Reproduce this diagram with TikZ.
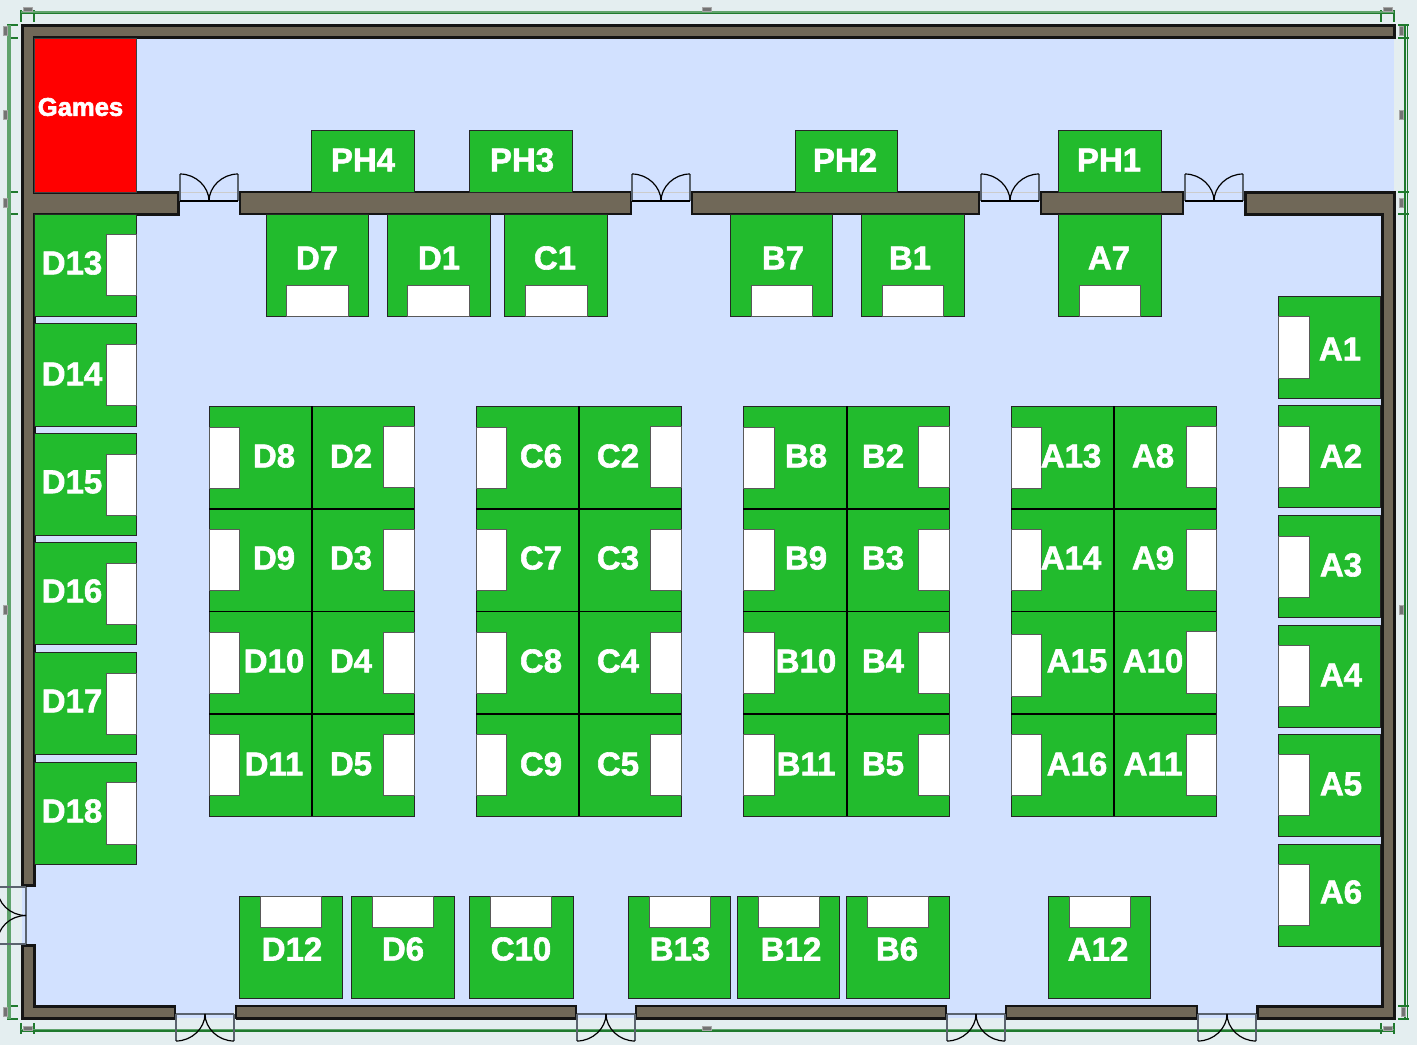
\documentclass[tikz,border=0pt]{standalone}
\usepackage{fontspec}
\setmainfont{Liberation Sans}
\definecolor{bgc}{HTML}{E4EEF0}
\definecolor{floorc}{HTML}{D2E1FF}
\definecolor{wallc}{HTML}{706858}
\definecolor{wallln}{HTML}{141414}
\definecolor{boothc}{HTML}{22BB2D}
\definecolor{dimc}{HTML}{1F7A2E}
\definecolor{dimlt}{HTML}{5FA36C}
\definecolor{framec}{HTML}{5A636E}
\newcommand\halotext[1]{\special{pdf:code 2 Tr 0.3 w 1 1 1 RG}#1\special{pdf:code 0 Tr}}
\tikzset{
  wallshape/.style={fill=wallc,draw=wallln,line width=1.5pt,line join=miter},
  thinwall/.style={fill=wallc,draw=wallln,line width=1pt,line join=miter},
  wallbase/.style={draw=wallln,line width=1.5pt},
  boothbox/.style={fill=boothc,draw=black!85,line width=0.45pt},
  whitebox/.style={fill=white,draw=black!65,line width=0.5pt},
  gridline/.style={draw=black,line width=0.9pt},
  boothlabel/.style={text=white,font=\bfseries\fontsize{16.5}{18}\selectfont,inner sep=0pt},
  gamelabel/.style={text=white,font=\bfseries\fontsize{12.8}{15}\selectfont,inner sep=0pt},
  dimline/.style={draw=dimc,line width=0.6pt},
  dimwide/.style={draw=dimlt,line width=1.8pt},
  smudge/.style={fill=black!55,draw=black!35,line width=0.2pt},
  doorline/.style={draw=black,line width=0.6pt},
  doorframe/.style={draw=framec,line width=1pt}
}
\newcommand\booth[9]{%
  \path[boothbox] (#1-0.7,#2-0.7) rectangle (#3-0.7,#4-0.7);
  \path[whitebox] (#5-0.7,#6-0.7) rectangle (#7-0.7,#8-0.7);
  \BoothLabel{#9}}
\newcommand\BoothLabel[1]{\def\BLname{#1}\BoothLabelB}
\newcommand\BoothLabelB[2]{\node[boothlabel] (b\BLname) at (#1,#2) {\halotext{\BLname}};}
\newcommand\topdoor[1]{%
  \pgfmathsetmacro\xa{#1}\pgfmathsetmacro\xb{#1+29}\pgfmathsetmacro\xc{#1+58}
  \pgfmathsetmacro\xd{#1+16}\pgfmathsetmacro\xe{#1+42}
  \path[fill=floorc] (\xa,190) rectangle (\xc,216);
  \draw[black!20,line width=0.4pt] (\xa,192) -- (\xc,192);
  \draw[doorframe] (\xa,174) -- (\xa,201);
  \draw[doorframe] (\xc,174) -- (\xc,201);
  \draw[doorline] (\xa,201) -- (\xc,201);
  \draw[doorline] (\xa,174) .. controls (\xd,174) and (\xb,187) .. (\xb,201);
  \draw[doorline] (\xc,174) .. controls (\xe,174) and (\xb,187) .. (\xb,201);}
\newcommand\botdoor[1]{%
  \pgfmathsetmacro\xa{#1}\pgfmathsetmacro\xb{#1+29}\pgfmathsetmacro\xc{#1+58}
  \pgfmathsetmacro\xd{#1+16}\pgfmathsetmacro\xe{#1+42}
  \path[fill=floorc] (\xa,1004) rectangle (\xc,1018);
  \draw[doorframe] (\xa,1014) -- (\xc,1014);
  \draw[doorframe] (\xa,1014) -- (\xa,1041);
  \draw[doorframe] (\xc,1014) -- (\xc,1041);
  \draw[doorline] (\xa,1041) .. controls (\xd,1041) and (\xb,1028) .. (\xb,1014);
  \draw[doorline] (\xc,1041) .. controls (\xe,1041) and (\xb,1028) .. (\xb,1014);}
\begin{document}
\begin{tikzpicture}[x=0.5pt,y=-0.5pt]
\useasboundingbox (0,0) rectangle (1417,1045);
\path[fill=bgc] (0,0) rectangle (1417,1045);
% floor
\path[fill=floorc] (30,35) rectangle (1394,192);
\path[fill=floorc] (30,190) rectangle (1384,1010);
\path[fill=floorc] (22,884) rectangle (36,946);
% dimension lines
\foreach \yy in {25,38,192,214,1006,1019} {
  \draw[dimline] (7,\yy) -- (18,\yy);
  \draw[dimline] (1398,\yy) -- (1409,\yy);
}
\foreach \xx in {21,34,1381,1394} {
  \draw[dimline] (\xx,10) -- (\xx,22);
  \draw[dimline] (\xx,1023) -- (\xx,1034);
}
\draw[dimwide] (9,25) -- (9,1019);
\draw[dimlt,line width=1.4pt] (21,12.2) -- (1394,12.2);
\draw[dimc,line width=0.6pt] (21,13.5) -- (1394,13.5);
\draw[dimline] (1405,25) -- (1405,1019);
\draw[dimline] (1407.5,25) -- (1407.5,1019);
\draw[dimlt,line width=0.9pt] (21,1030) -- (1394,1030);
\draw[dimc,line width=0.6pt] (21,1031) -- (1394,1031);
\foreach \xx/\yy in {28/9,707/9,1388/9,28/1028,707/1028,1388/1028} {
  \path[smudge] (\xx-4.5,\yy-2) rectangle (\xx+4.5,\yy+2);
}
\foreach \xx/\yy in {5/31,5/115,5/203,5/610,5/1012,1401/31,1401/115,1401/203,1401/610,1403/1012} {
  \path[smudge] (\xx-2,\yy-4.5) rectangle (\xx+2,\yy+4.5);
}
% walls
\path[wallshape] (22.3,25.7) -- (1394,25.7) -- (1394,37.7) -- (34,37.7) -- (34,192) -- (178,192) -- (178,214) -- (34,214) -- (34,885) -- (22.3,885) -- cycle;
\path[thinwall] (240,192) rectangle (631,214);
\path[thinwall] (692,192) rectangle (979,214);
\path[thinwall] (1041,192) rectangle (1183,214);
\path[wallshape] (1245,192) -- (1394,192) -- (1394,1018) -- (1257,1018) -- (1257,1006) -- (1382,1006) -- (1382,214) -- (1245,214) -- cycle;
\path[wallshape] (22.3,945) -- (34,945) -- (34,1006) -- (175,1006) -- (175,1018) -- (22.3,1018) -- cycle;
\path[thinwall] (236,1005.5) rectangle (576,1018);
\path[thinwall] (636,1005.5) rectangle (946,1018);
\path[thinwall] (1006,1005.5) rectangle (1197,1018);
\draw[wallbase] (236,1018) -- (576,1018);
\draw[wallbase] (636,1018) -- (946,1018);
\draw[wallbase] (1006,1018) -- (1197,1018);
% doors
\topdoor{180}\topdoor{632}\topdoor{981}\topdoor{1185}
\botdoor{176}\botdoor{577}\botdoor{947}\botdoor{1198}
\draw[doorframe] (0,887) -- (26,887);
\draw[doorframe] (0,944) -- (26,944);
\draw[doorframe] (26,887) -- (26,944);
\draw[doorline] (-3,887) .. controls (-3,903) and (10,915.5) .. (26,915.5);
\draw[doorline] (-3,944) .. controls (-3,928) and (10,915.5) .. (26,915.5);
% games
\path[fill=red,draw=black!75,line width=0.5pt] (34.5,38.5) rectangle (136.5,192);
\node[gamelabel] (games) at (80.5,107) {\halotext{Games}};
% PH booths
\path[boothbox] (311.3,130.3) rectangle (414.3,192);
\node[boothlabel] (bPH4) at (363,160) {\halotext{PH4}};
\path[boothbox] (469.3,130.3) rectangle (572.3,192);
\node[boothlabel] (bPH3) at (522,160) {\halotext{PH3}};
\path[boothbox] (795.3,130.3) rectangle (897.3,192);
\node[boothlabel] (bPH2) at (845,160) {\halotext{PH2}};
\path[boothbox] (1058.3,130.3) rectangle (1161.3,192);
\node[boothlabel] (bPH1) at (1109,160) {\halotext{PH1}};
% top row
\booth{267}{215}{369}{317}{287}{286}{349}{317}{D7}{317}{258}
\booth{388}{215}{491}{317}{408}{286}{470}{317}{D1}{439}{258}
\booth{505}{215}{608}{317}{526}{286}{588}{317}{C1}{555}{258}
\booth{731}{215}{833}{317}{752}{286}{813}{317}{B7}{783}{258}
\booth{862}{215}{965}{317}{883}{286}{944}{317}{B1}{910}{258}
\booth{1059}{215}{1162}{317}{1080}{286}{1141}{317}{A7}{1109}{258}
% left column
\booth{35}{215}{137}{317}{107}{235}{137}{296}{D13}{72}{263}
\booth{35}{324}{137}{427}{107}{345}{137}{406}{D14}{72}{374}
\booth{35}{434}{137}{536}{107}{455}{137}{516}{D15}{72}{482}
\booth{35}{543}{137}{645}{107}{564}{137}{625}{D16}{72}{591}
\booth{35}{653}{137}{755}{107}{674}{137}{735}{D17}{72}{701}
\booth{35}{763}{137}{865}{107}{783}{137}{845}{D18}{72}{811}
% right column
\booth{1279}{297}{1381}{399}{1279}{317}{1310}{379}{A1}{1340}{349}
\booth{1279}{406}{1381}{508}{1279}{427}{1310}{488}{A2}{1341}{456}
\booth{1279}{516}{1381}{618}{1279}{537}{1310}{598}{A3}{1341}{565}
\booth{1279}{626}{1381}{728}{1279}{646}{1310}{707}{A4}{1341}{675}
\booth{1279}{735}{1381}{837}{1279}{755}{1310}{816}{A5}{1341}{784}
\booth{1279}{845}{1381}{947}{1279}{865}{1310}{926}{A6}{1341}{892}
% D block
\booth{210}{407}{312}{509}{210}{428}{240}{489}{D8}{274}{456}
\booth{312}{407}{415}{509}{384}{427}{415}{488}{D2}{351}{456}
\booth{210}{509}{312}{612}{210}{530}{240}{591}{D9}{274}{558}
\booth{312}{509}{415}{612}{384}{530}{415}{591}{D3}{351}{558}
\booth{210}{612}{312}{714}{210}{633}{240}{694}{D10}{274}{661}
\booth{312}{612}{415}{714}{384}{633}{415}{694}{D4}{351}{661}
\booth{210}{714}{312}{817}{210}{735}{240}{796}{D11}{274}{764}
\booth{312}{714}{415}{817}{384}{735}{415}{796}{D5}{351}{764}
% C block
\booth{477}{407}{579}{509}{477}{428}{507}{489}{C6}{541}{456}
\booth{579}{407}{682}{509}{651}{427}{682}{488}{C2}{618}{456}
\booth{477}{509}{579}{612}{477}{530}{507}{591}{C7}{541}{558}
\booth{579}{509}{682}{612}{651}{530}{682}{591}{C3}{618}{558}
\booth{477}{612}{579}{714}{477}{633}{507}{694}{C8}{541}{661}
\booth{579}{612}{682}{714}{651}{633}{682}{694}{C4}{618}{661}
\booth{477}{714}{579}{817}{477}{735}{507}{796}{C9}{541}{764}
\booth{579}{714}{682}{817}{651}{735}{682}{796}{C5}{618}{764}
% B block
\booth{744}{407}{847}{509}{744}{428}{775}{489}{B8}{806}{456}
\booth{847}{407}{950}{509}{919}{427}{950}{488}{B2}{883}{456}
\booth{744}{509}{847}{612}{744}{530}{775}{591}{B9}{806}{558}
\booth{847}{509}{950}{612}{919}{530}{950}{591}{B3}{883}{558}
\booth{744}{612}{847}{714}{744}{633}{775}{694}{B10}{806}{661}
\booth{847}{612}{950}{714}{919}{633}{950}{694}{B4}{883}{661}
\booth{744}{714}{847}{817}{744}{735}{775}{796}{B11}{806}{764}
\booth{847}{714}{950}{817}{919}{735}{950}{796}{B5}{883}{764}
% A block
\booth{1012}{407}{1114}{509}{1012}{428}{1042}{489}{A13}{1071}{456}
\booth{1114}{407}{1217}{509}{1187}{427}{1217}{488}{A8}{1153}{456}
\booth{1012}{509}{1114}{612}{1012}{530}{1042}{591}{A14}{1071}{558}
\booth{1114}{509}{1217}{612}{1187}{530}{1217}{591}{A9}{1153}{558}
\booth{1012}{612}{1114}{714}{1012}{635}{1042}{697}{A15}{1077}{661}
\booth{1114}{612}{1217}{714}{1187}{632}{1217}{694}{A10}{1153}{661}
\booth{1012}{714}{1114}{817}{1012}{735}{1042}{796}{A16}{1077}{764}
\booth{1114}{714}{1217}{817}{1187}{735}{1217}{796}{A11}{1153}{764}
% inner division lines of the four blocks
\foreach \xa/\xm/\xb in {209.3/311.7/414.3,476.3/578.7/681.3,743.3/846.7/949.3,1011.3/1113.7/1216.3} {
  \draw[gridline] (\xm,406.3) -- (\xm,816.3);
  \draw[gridline] (\xa,509) -- (\xb,509);
  \draw[gridline] (\xa,611.5) -- (\xb,611.5);
  \draw[gridline] (\xa,714) -- (\xb,714);
}
% bottom row
\booth{240}{897}{343}{999}{261}{897}{322}{928}{D12}{292}{949}
\booth{352}{897}{455}{999}{373}{897}{434}{928}{D6}{403}{949}
\booth{470}{897}{574}{999}{491}{897}{552}{928}{C10}{521}{949}
\booth{629}{897}{731}{999}{650}{897}{711}{928}{B13}{680}{949}
\booth{738}{897}{840}{999}{759}{897}{820}{928}{B12}{791}{949}
\booth{847}{897}{950}{999}{868}{897}{929}{928}{B6}{897}{949}
\booth{1049}{897}{1151}{999}{1070}{897}{1131}{928}{A12}{1098}{949}
\end{tikzpicture}
\end{document}
